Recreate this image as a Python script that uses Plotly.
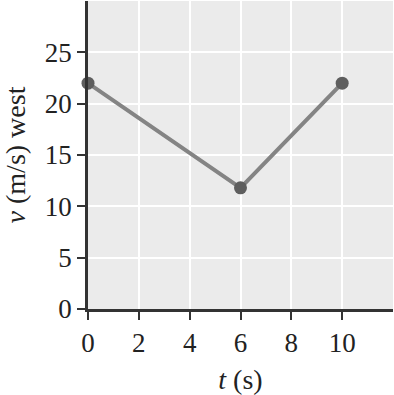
import plotly.graph_objects as go

t_values = [0, 6, 10]
v_values = [22, 11.8, 22]
x_ticks = [0, 2, 4, 6, 8, 10]
y_ticks = [0, 5, 10, 15, 20, 25]

font_family = "Liberation Serif, Times New Roman, serif"
tick_font = dict(family=font_family, size=27, color="#222")
title_font = dict(family=font_family, size=28, color="#222")

fig = go.Figure()
fig.add_trace(go.Scatter(
    x=t_values, y=v_values, mode="lines+markers",
    line=dict(color="#848484", width=4),
    marker=dict(color="#5e5e5e", size=13),
    showlegend=False, cliponaxis=False,
))

fig.update_layout(
    width=394, height=395,
    autosize=False,
    margin=dict(l=88, r=1, t=1, b=86, pad=0),
    paper_bgcolor="white",
    plot_bgcolor="#ebebeb",
    font=dict(family=font_family, size=27, color="#222"),
    xaxis=dict(
        range=[0, 12], tickvals=x_ticks, ticks="outside", ticklen=8, tickwidth=2,
        tickcolor="#333", showline=True, linecolor="#333", linewidth=2.5,
        showgrid=True, gridcolor="white", gridwidth=2, zeroline=False,
        automargin=False, tickfont=tick_font,
        title=dict(text="<i>t</i> (s)", standoff=14, font=title_font),
    ),
    yaxis=dict(
        range=[0, 30], tickvals=y_ticks, ticks="outside", ticklen=8, tickwidth=2,
        tickcolor="#333", showline=True, linecolor="#333", linewidth=2.5,
        showgrid=True, gridcolor="white", gridwidth=2, zeroline=False,
        automargin=False, tickfont=tick_font,
        title=dict(text="<i>v</i> (m/s) west", standoff=12, font=title_font),
    ),
)

fig.write_html(
    "out.html",
    config={"displayModeBar": False},
    post_script="document.body.style.margin='0';document.body.style.overflow='hidden';",
)
